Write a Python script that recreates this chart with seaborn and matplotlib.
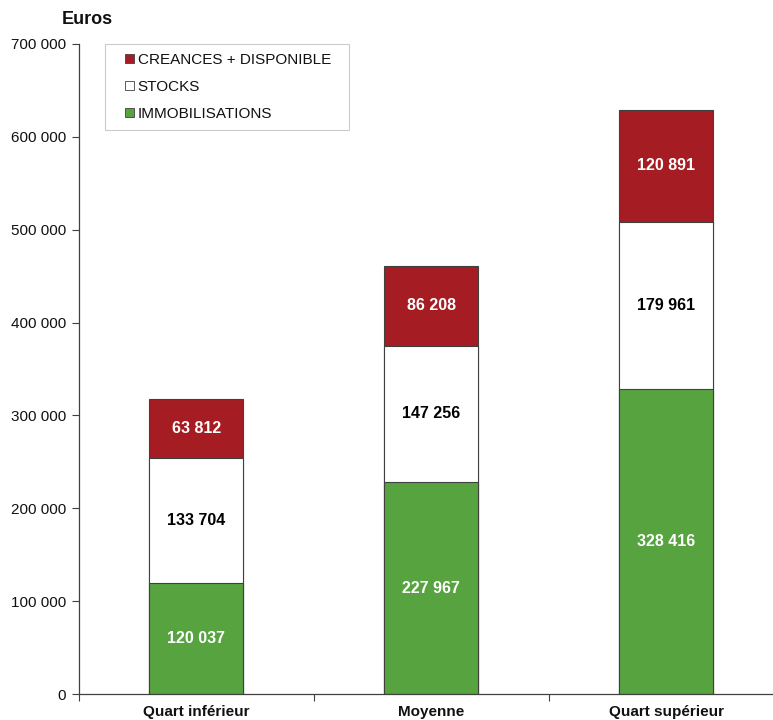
import matplotlib
matplotlib.use('Agg')
import matplotlib.pyplot as plt
from matplotlib.patches import Patch, Rectangle
from matplotlib.legend_handler import HandlerPatch
from matplotlib.ticker import FuncFormatter, FixedLocator
import pandas as pd
import seaborn as sns

categories = ['Quart inférieur', 'Moyenne', 'Quart supérieur']
immobilisations = [120037, 227967, 328416]
stocks = [133704, 147256, 179961]
creances = [63812, 86208, 120891]

series_names = ['IMMOBILISATIONS', 'STOCKS', 'CREANCES + DISPONIBLE']
series_colors = ['#56A340', '#FFFFFF', '#A51D23']
text_colors = ['white', 'black', 'white']

sns.set_theme(style='white')
plt.rcParams['font.family'] = ['Liberation Sans', 'DejaVu Sans']
plt.rcParams['text.color'] = '#111111'
plt.rcParams['xtick.color'] = '#111111'
plt.rcParams['ytick.color'] = '#111111'

df = pd.DataFrame({
    'categorie': categories,
    'IMMOBILISATIONS': immobilisations,
    'STOCKS': stocks,
    'CREANCES + DISPONIBLE': creances,
})
cum = df[series_names].cumsum(axis=1)

fig = plt.figure(figsize=(7.73, 7.20), dpi=100)
ax = fig.add_axes([0.102, 0.036, 0.912, 0.903])

# stacked bars: draw cumulative totals back to front
for name, color in reversed(list(zip(series_names, series_colors))):
    sns.barplot(x=df['categorie'], y=cum[name], color=color, width=0.4,
                saturation=1, edgecolor='#404040', linewidth=0.8, ax=ax)

for i, name in enumerate(series_names):
    bottoms = cum[name] - df[name]
    for j, v in enumerate(df[name]):
        ax.text(j, bottoms[j] + v / 2, f'{v:,}'.replace(',', ' '),
                ha='center', va='center', fontsize=11.5, fontweight='bold',
                color=text_colors[i])

ax.set_xlim(-0.5, 2.5)
ax.set_ylim(0, 700000)
ax.yaxis.set_major_locator(FixedLocator(range(0, 700001, 100000)))
ax.yaxis.set_major_formatter(FuncFormatter(lambda v, p: f'{int(v):,}'.replace(',', ' ')))
ax.set_xlabel('')
ax.set_ylabel('')

ax.xaxis.set_major_locator(FixedLocator([-0.5, 0.5, 1.5, 2.5]))
ax.xaxis.set_minor_locator(FixedLocator([0, 1, 2]))
ax.set_xticklabels([], minor=False)
ax.set_xticklabels(categories, minor=True, fontweight='bold', fontsize=11)
ax.tick_params(axis='x', which='major', length=5, direction='out', color='#404040', width=0.8, bottom=True)
ax.tick_params(axis='x', which='minor', length=0, pad=8, bottom=True)
ax.tick_params(axis='y', length=5, direction='out', color='#404040', width=0.8, labelsize=11, left=True, pad=4)

for side in ['top', 'right']:
    ax.spines[side].set_visible(False)
for side in ['left', 'bottom']:
    ax.spines[side].set_color('#404040')
    ax.spines[side].set_linewidth(0.9)

fig.text(0.080, 0.973, 'Euros', fontsize=13, fontweight='bold', ha='left', va='center')


def square_handle(legend, orig_handle, xdescent, ydescent, width, height, fontsize):
    # small square sitting at the right end of the handle box
    return Rectangle((width - height - xdescent, -ydescent), height, height)


handles = [Patch(facecolor=c, edgecolor='#404040', linewidth=0.6, label=n)
           for n, c in zip(series_names, series_colors)]
leg = ax.legend(handles=handles[::-1], loc='upper left', bbox_to_anchor=(0.037, 1.0, 0.346, 0.0),
                mode='expand', borderaxespad=0, fontsize=11, handlelength=1.3, handleheight=0.55,
                handletextpad=0.25, labelspacing=0.85, borderpad=0.6, fancybox=False, frameon=True,
                handler_map={Patch: HandlerPatch(patch_func=square_handle)})
leg.get_frame().set_edgecolor('#BFBFBF')
leg.get_frame().set_linewidth(0.8)

fig.savefig('out.png', dpi=100)
